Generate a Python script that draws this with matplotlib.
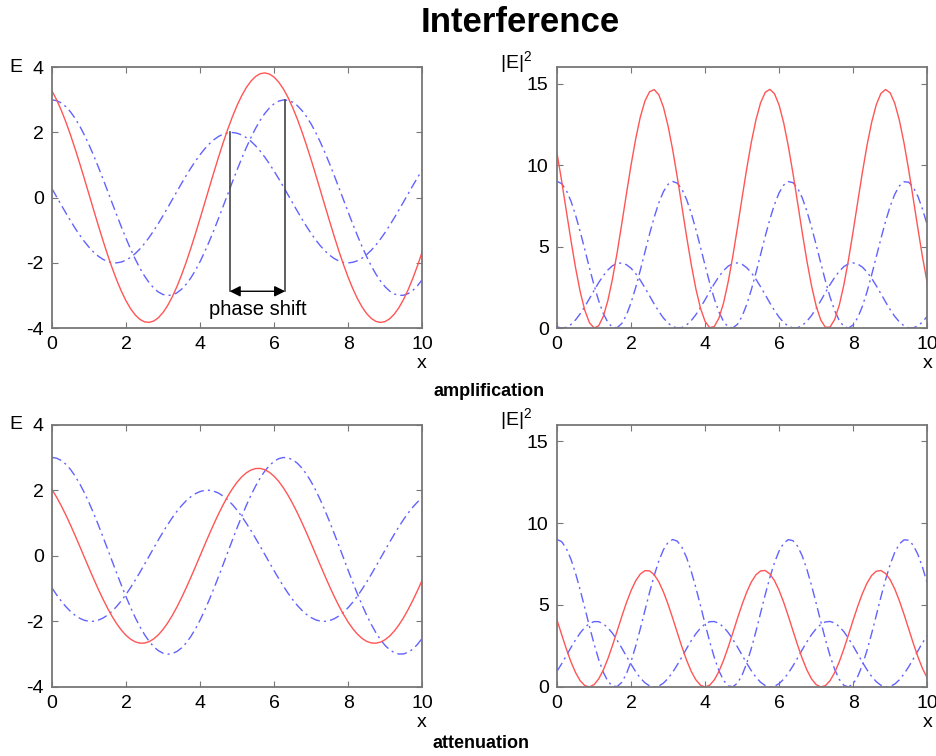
import numpy as np
import matplotlib
matplotlib.use("Agg")
import matplotlib.pyplot as plt

plt.rcParams['font.family'] = ['Liberation Sans', 'DejaVu Sans']
plt.rcParams['mathtext.default'] = 'regular'
plt.rcParams['axes.unicode_minus'] = False

#%% data (x step 0.125)
x = np.arange(0, 10.001, 0.125)

# amplification: first wave (amplitude 2), second wave (amplitude 3), sum
amp_e1 = [0.274, 0.025, -0.224, -0.470, -0.709, -0.937, -1.150, -1.345, -1.519, -1.670,
          -1.794, -1.890, -1.957, -1.993, -1.998, -1.972, -1.916, -1.829, -1.714, -1.572,
          -1.405, -1.217, -1.010, -0.787, -0.551, -0.307, -0.058, 0.191, 0.438, 0.678,
          0.907, 1.122, 1.320, 1.497, 1.651, 1.779, 1.879, 1.950, 1.990, 2.000,
          1.978, 1.925, 1.842, 1.731, 1.592, 1.429, 1.243, 1.038, 0.817, 0.583,
          0.340, 0.092, -0.158, -0.406, -0.647, -0.878, -1.095, -1.295, -1.475, -1.632,
          -1.763, -1.867, -1.942, -1.987, -2.000, -1.982, -1.934, -1.855, -1.747, -1.612,
          -1.452, -1.269, -1.066, -0.847, -0.615, -0.373, -0.125, 0.125, 0.373, 0.615,
          0.848]
wave3 = [3.000, 2.977, 2.907, 2.792, 2.633, 2.433, 2.195, 1.923, 1.621, 1.294,
         0.946, 0.584, 0.212, -0.163, -0.535, -0.899, -1.248, -1.579, -1.885, -2.161,
         -2.403, -2.608, -2.773, -2.894, -2.970, -2.999, -2.982, -2.918, -2.809, -2.656,
         -2.462, -2.229, -1.961, -1.662, -1.338, -0.993, -0.632, -0.262, 0.113, 0.486,
         0.851, 1.203, 1.536, 1.845, 2.126, 2.374, 2.584, 2.754, 2.881, 2.963,
         2.998, 2.987, 2.930, 2.827, 2.679, 2.490, 2.262, 1.999, 1.704, 1.383,
         1.040, 0.681, 0.311, -0.063, -0.437, -0.803, -1.157, -1.493, -1.806, -2.090,
         -2.342, -2.557, -2.733, -2.866, -2.954, -2.996, -2.992, -2.940, -2.843, -2.701,
         -2.517]
amp_sum = [3.274, 3.002, 2.683, 2.322, 1.924, 1.496, 1.045, 0.578, 0.102, -0.376,
           -0.848, -1.306, -1.745, -2.156, -2.533, -2.871, -3.164, -3.408, -3.599, -3.733,
           -3.808, -3.825, -3.783, -3.681, -3.521, -3.306, -3.040, -2.727, -2.371, -1.978,
           -1.555, -1.107, -0.641, -0.165, 0.313, 0.786, 1.247, 1.688, 2.103, 2.486,
           2.829, 3.128, 3.378, 3.576, 3.718, 3.803, 3.827, 3.792, 3.698, 3.546,
           3.338, 3.079, 2.772, 2.421, 2.032, 1.612, 1.167, 0.704, 0.229, -0.249,
           -0.723, -1.186, -1.631, -2.050, -2.437, -2.785, -3.091, -3.348, -3.553, -3.702,
           -3.794, -3.826, -3.799, -3.713, -3.569, -3.369, -3.117, -2.815, -2.470, -2.086,
           -1.669]

# attenuation: first wave shifted, same second wave, sum
att_e1 = [-0.981, -1.190, -1.381, -1.551, -1.696, -1.815, -1.906, -1.967, -1.997, -1.996,
          -1.963, -1.900, -1.808, -1.687, -1.540, -1.369, -1.177, -0.966, -0.740, -0.503,
          -0.258, -0.009, 0.241, 0.487, 0.725, 0.951, 1.163, 1.357, 1.530, 1.679,
          1.801, 1.895, 1.960, 1.995, 1.998, 1.970, 1.911, 1.822, 1.705, 1.561,
          1.393, 1.203, 0.995, 0.771, 0.535, 0.291, 0.042, -0.208, -0.454, -0.693,
          -0.922, -1.136, -1.333, -1.508, -1.660, -1.786, -1.884, -1.953, -1.992, -1.999,
          -1.975, -1.920, -1.836, -1.722, -1.582, -1.417, -1.230, -1.024, -0.802, -0.567,
          -0.323, -0.075, 0.175, 0.422, 0.662, 0.892, 1.109, 1.308, 1.486, 1.641,
          1.771]
att_sum = [2.019, 1.787, 1.526, 1.241, 0.937, 0.618, 0.289, -0.044, -0.376, -0.702,
           -1.017, -1.316, -1.596, -1.850, -2.075, -2.268, -2.425, -2.545, -2.625, -2.664,
           -2.661, -2.617, -2.532, -2.407, -2.245, -2.048, -1.819, -1.561, -1.279, -0.977,
           -0.661, -0.334, -0.001, 0.333, 0.660, 0.977, 1.279, 1.560, 1.818, 2.047,
           2.244, 2.406, 2.531, 2.616, 2.661, 2.665, 2.626, 2.546, 2.427, 2.270,
           2.076, 1.851, 1.597, 1.319, 1.019, 0.704, 0.378, 0.046, -0.288, -0.616,
           -0.935, -1.239, -1.525, -1.785, -2.019, -2.220, -2.387, -2.517, -2.608, -2.657,
           -2.665, -2.632, -2.558, -2.444, -2.292, -2.104, -1.883, -1.632, -1.357, -1.060,
           -0.746]

# phase shift marker (peaks of the two waves)
peak1 = (4.8, 2.0)
peak2 = (6.3, 3.0)

#%% plot
red = '#ff5555'
blue = '#6262ff'
dashdot = (0, (7, 3, 1.5, 3))

fig = plt.figure(figsize=(9.37, 7.56), dpi=100)

L, R, W = 0.0555, 0.5945, 0.395
pos = {'tl': [L, 0.566, W, 0.345], 'tr': [R, 0.566, W, 0.345],
       'bl': [L, 0.0913, W, 0.347], 'br': [R, 0.0913, W, 0.347]}


def style(ax, ylim, yticks, ylab):
    ax.set_xlim(0, 10)
    ax.set_ylim(*ylim)
    ax.set_xticks(range(0, 11, 2))
    ax.set_yticks(yticks)
    ax.tick_params(direction='in', top=True, right=True, labelsize=14,
                   color='#777777', length=4, pad=6)
    for s in ax.spines.values():
        s.set_color('#777777')
        s.set_linewidth(1.3)
    ax.text(1.0, -0.135, 'x', transform=ax.transAxes, ha='center', va='center', fontsize=14)
    if ylab == 'E':
        ax.text(-0.098, 1.0, 'E', transform=ax.transAxes, ha='center', va='center', fontsize=14)
    else:
        ax.text(-0.11, 1.02, '|E|$^2$', transform=ax.transAxes, ha='center', va='center', fontsize=14)


def draw_E(ax, e1, e2, s):
    ax.plot(x, e1, color=blue, lw=1.0, linestyle=dashdot)
    ax.plot(x, e2, color=blue, lw=1.0, linestyle=dashdot)
    ax.plot(x, s, color=red, lw=1.0)
    style(ax, (-4, 4), [-4, -2, 0, 2, 4], 'E')


def draw_I(ax, e1, e2, s):
    ax.plot(x, np.abs(e1) ** 2, color=blue, lw=1.0, linestyle=dashdot)
    ax.plot(x, np.abs(e2) ** 2, color=blue, lw=1.0, linestyle=dashdot)
    ax.plot(x, np.abs(s) ** 2, color=red, lw=1.0)
    style(ax, (0, 16), [0, 5, 10, 15], 'I')


ax1 = fig.add_axes(pos['tl'])
draw_E(ax1, np.array(amp_e1), np.array(wave3), np.array(amp_sum))
# phase shift annotation
ybar = -2.87
ax1.plot([peak1[0], peak1[0]], [peak1[1], ybar], color='#444444', lw=1.2)
ax1.plot([peak2[0], peak2[0]], [peak2[1], ybar], color='#444444', lw=1.2)
ax1.annotate('', xy=(peak1[0], ybar), xytext=(peak2[0], ybar),
             arrowprops=dict(arrowstyle='<|-|>', color='black', lw=1.0, mutation_scale=16,
                             shrinkA=0, shrinkB=0))
ax1.text((peak1[0] + peak2[0]) / 2, -3.42, 'phase shift', ha='center', va='center', fontsize=14.5)

ax2 = fig.add_axes(pos['tr'])
draw_I(ax2, np.array(amp_e1), np.array(wave3), np.array(amp_sum))

ax3 = fig.add_axes(pos['bl'])
draw_E(ax3, np.array(att_e1), np.array(wave3), np.array(att_sum))

ax4 = fig.add_axes(pos['br'])
draw_I(ax4, np.array(att_e1), np.array(wave3), np.array(att_sum))

fig.text(520 / 937, 1 - 22 / 756, 'Interference', ha='center', va='center',
         fontsize=25, fontweight='bold')
fig.text(434 / 937, 1 - 392 / 756, 'amplification', ha='left', va='center',
         fontsize=13, fontweight='bold')
fig.text(433 / 937, 1 - 744 / 756, 'attenuation', ha='left', va='center',
         fontsize=13, fontweight='bold')

fig.savefig('out.png', dpi=100)
